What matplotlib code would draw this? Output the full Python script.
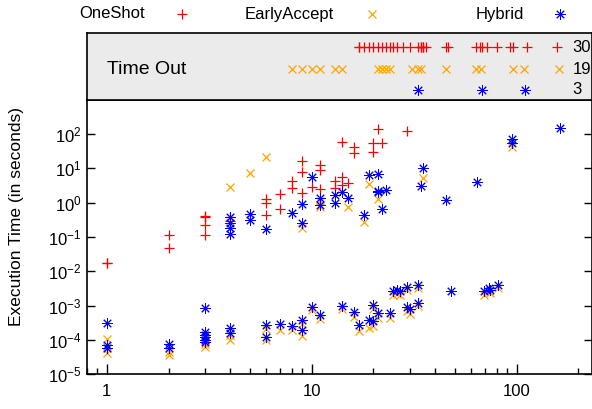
import math
import matplotlib
matplotlib.use("Agg")
import matplotlib.pyplot as plt
from matplotlib.ticker import LogLocator, FixedLocator, FuncFormatter, NullFormatter

plt.rcParams['font.family'] = ['Liberation Sans', 'DejaVu Sans']
plt.rcParams['mathtext.fontset'] = 'custom'
plt.rcParams['mathtext.rm'] = 'Liberation Sans'
plt.rcParams['mathtext.default'] = 'regular'

# --- data ---
series_names = ["OneShot", "EarlyAccept", "Hybrid"]

oneshot_x = [1, 1, 2, 2, 3, 3, 3, 3, 4, 4, 6, 6, 6, 7, 7, 8, 8, 9, 9, 9, 10,
             11, 11, 11, 13, 13, 14, 14, 14, 15, 16, 16, 20, 20, 21, 22, 29]
oneshot_y = [0.0176, 0.0170, 0.112, 0.047, 0.40, 0.38, 0.224, 0.112, 0.375, 0.30,
             1.26, 1.0, 0.44, 1.76, 0.655, 4.28, 2.63, 16.7, 8.0, 1.88, 2.8,
             12.5, 8.95, 2.5, 4.28, 2.63, 59.8, 5.7, 3.28, 3.7, 42.8, 27.5,
             53.6, 30.6, 137, 53.6, 125]

early_x = [4, 5, 6, 9, 11, 11, 15, 18, 19, 21, 35, 95,
           1, 1, 1, 2, 2, 3, 3, 4, 4, 6, 6, 7, 8, 9, 9, 10, 11, 14, 16, 17,
           19, 20, 20, 21, 24, 25, 26, 27, 29, 29, 30, 33, 33, 69, 73, 74, 81]
early_y = [2.81, 7.2, 21.9, 0.18, 1.15, 0.75, 0.73, 0.28, 3.6, 1.26, 5.3, 42.8,
           1.1e-4, 6e-5, 4.1e-5, 4.5e-5, 3.6e-5, 6.4e-5, 7.5e-5, 1.0e-4, 1.4e-4,
           2.1e-4, 1.0e-4, 2.0e-4, 2.0e-4, 3.0e-4, 1.3e-4, 7.5e-4, 4.0e-4, 8e-4,
           4.8e-4, 1.8e-4, 2.2e-4, 8e-4, 2.6e-4, 4.5e-4, 4.5e-4, 2.1e-3, 2.2e-3,
           2.1e-3, 2.9e-3, 7e-4, 5.8e-4, 3.3e-3, 9.5e-4, 2.1e-3, 2.6e-3, 2.3e-3, 3.3e-3]

hybrid_x = [4, 4, 4, 4, 5, 5, 6, 8, 9, 9, 10, 11, 11, 13, 13, 14, 15, 18, 19,
            21, 21, 21, 22, 23, 34, 35, 45, 64, 95, 95, 163,
            1, 1, 1, 2, 2, 3, 3, 3, 3, 3, 3, 4, 4, 6, 6, 7, 8, 9, 9, 10, 11,
            14, 16, 17, 19, 20, 20, 21, 24, 25, 26, 27, 29, 29, 30, 33, 33,
            48, 69, 73, 74, 81]
hybrid_y = [0.375, 0.25, 0.18, 0.122, 0.47, 0.31, 0.175, 0.49, 0.9, 0.26, 5.7,
            1.34, 0.86, 1.68, 0.96, 2.09, 1.34, 0.44, 6.4, 7.0, 2.2, 2.0, 0.64,
            2.4, 3.1, 10.0, 1.2, 4.1, 70, 53.6, 147,
            3.2e-4, 7.2e-5, 5.7e-5, 7.5e-5, 6.0e-5, 8.4e-4, 1.7e-4, 1.4e-4,
            1.2e-4, 1.0e-4, 9e-5, 2.2e-4, 1.6e-4, 2.7e-4, 1.26e-4, 2.9e-4,
            2.6e-4, 3.9e-4, 1.9e-4, 9.3e-4, 5.2e-4, 9.8e-4, 6.6e-4, 2.8e-4,
            3.9e-4, 1.05e-3, 3.5e-4, 6e-4, 6e-4, 2.6e-3, 2.8e-3, 2.6e-3,
            3.6e-3, 9.3e-4, 7.8e-4, 4e-3, 1.2e-3, 2.6e-3, 2.6e-3, 3.2e-3,
            2.8e-3, 4.0e-3]

# instances that timed out, by x value
oneshot_timeout_x = [17, 17, 18, 19, 20, 21, 22, 23, 24, 25, 26, 28, 30, 33, 34,
                     34, 35, 35, 36, 45, 46, 63, 66, 68, 72, 80, 93, 96, 112, 158]
early_timeout_x = [8, 9, 10, 11, 13, 14, 21, 22, 23, 24, 31, 33, 34, 45, 63, 67,
                   96, 109, 160]
hybrid_timeout_x = [33, 68, 110]

colors = ['#ff0000', '#ffa500', '#0000ff']
markers = ['+', 'x', (8, 2, 0)]
sizes = [7, 6, 7.5]
mews = [0.9, 0.9, 0.7]

fig = plt.figure(figsize=(5.92, 4.09), dpi=100)
L, R = 87 / 592, 592 / 592
ax = fig.add_axes([L, 1 - 374.3 / 409, R - L, (374.3 - 99.7) / 409])
tax = fig.add_axes([L, 1 - 99.7 / 409, R - L, (99.7 - 33.3) / 409], sharex=ax)

xs = [oneshot_x, early_x, hybrid_x]
ys = [oneshot_y, early_y, hybrid_y]
for xv, yv, c, m, s, w in zip(xs, ys, colors, markers, sizes, mews):
    ax.plot(xv, yv, linestyle='none', marker=m, color=c, ms=s, mew=w)

ax.set_xscale('log')
ax.set_yscale('log')
ax.set_xlim(0.8, 233)
ax.set_ylim(1e-5, 1e3)
ax.yaxis.set_major_locator(FixedLocator([10.0 ** k for k in range(-5, 3)]))
ax.yaxis.set_minor_locator(FixedLocator([]))
ax.yaxis.set_major_formatter(FuncFormatter(lambda v, p: r'$10^{%d}$' % round(math.log10(v))))
ax.xaxis.set_major_locator(FixedLocator([1, 10, 100]))
ax.xaxis.set_major_formatter(FuncFormatter(lambda v, p: '%d' % v))
ax.xaxis.set_minor_locator(LogLocator(base=10, subs=range(2, 10)))
ax.xaxis.set_minor_formatter(NullFormatter())
ax.tick_params(axis='y', which='both', direction='in', left=True, right=True,
               length=6, width=1, labelsize=12, pad=4)
ax.tick_params(axis='x', which='major', direction='in', top=False, length=7,
               width=1, labelsize=12, pad=7)
ax.tick_params(axis='x', which='minor', direction='in', top=False, length=4, width=1)
for sp in ax.spines.values():
    sp.set_linewidth(1.2)

# time-out band
tax.set_facecolor('#ebebeb')
tax.set_ylim(0, 1)
tax.tick_params(axis='both', which='both', bottom=False, left=False, top=False,
                right=False, labelbottom=False, labelleft=False)
for sp in tax.spines.values():
    sp.set_linewidth(1.2)
timeouts = [oneshot_timeout_x, early_timeout_x, hybrid_timeout_x]
rows = [0.79, 0.46, 0.15]
for tx, row, c, m, s, w in zip(timeouts, rows, colors, markers, sizes, mews):
    tax.plot(tx, [row] * len(tx), linestyle='none', marker=m, color=c, ms=s, mew=w)
    tax.text(0.962, row, str(len(tx)), transform=tax.transAxes,
             ha='left', va='center', fontsize=12)
tax.text(0.04, 0.46, 'Time Out', transform=tax.transAxes, ha='left', va='center',
         fontsize=14)

# key across the top
kax = fig.add_axes([0, 0, 1, 1])
kax.set_xlim(0, 592)
kax.set_ylim(409, 0)
kax.axis('off')
key_text_end = [145, 334, 524]
key_marker = [182, 372, 560]
for name, te, km, c, m, s, w in zip(series_names, key_text_end, key_marker, colors, markers, sizes, mews):
    kax.text(te, 14, name, ha='right', va='center', fontsize=12)
    kax.plot([km], [14], linestyle='none', marker=m, color=c, ms=s, mew=w)

fig.text(17 / 592, 1 - 216 / 409, 'Execution Time (in seconds)', rotation=90,
         ha='center', va='center', fontsize=12.5)

fig.savefig('out.png', dpi=100)
